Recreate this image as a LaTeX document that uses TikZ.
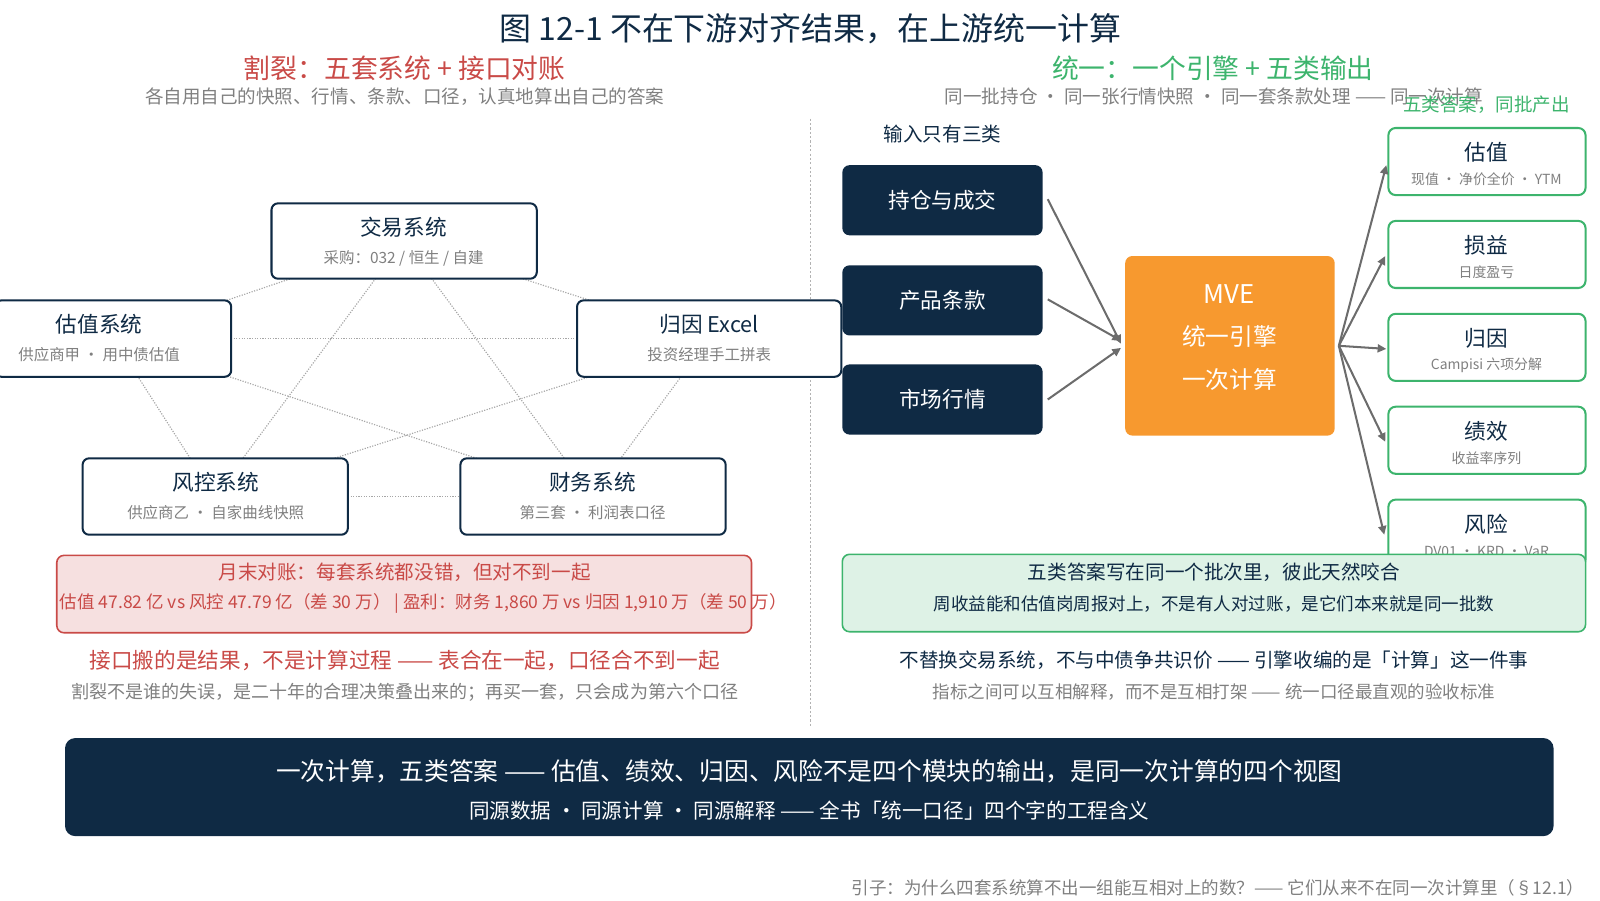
\documentclass[tikz,border=0pt]{standalone}
\usepackage{fontspec}
\setmainfont{Noto Sans CJK SC}
\usetikzlibrary{arrows.meta}
\newcommand\pxf[1]{\fontsize{\dimexpr #1pt*142/100\relax}{\dimexpr #1pt*175/100\relax}\selectfont}
\definecolor{navy}{HTML}{0F2A44}
\definecolor{redc}{HTML}{C94A47}
\definecolor{greenc}{HTML}{3DB46D}
\definecolor{grayt}{HTML}{808080}
\definecolor{orangec}{HTML}{F7992F}
\begin{document}
\begin{tikzpicture}[x=0.05cm,y=-0.05cm,
  sys/.style={draw=navy,line width=2.8pt,fill=white,rounded corners=9pt},
  inp/.style={fill=navy,rounded corners=10pt},
  outb/.style={draw=greenc,line width=2.8pt,fill=white,rounded corners=10pt},
  dotl/.style={gray!70,dotted,line width=1.6pt},
  arr/.style={draw=gray!85!black,line width=2.8pt,-{Triangle[length=12pt,width=11pt]}},
  lbl/.style={inner sep=0pt,text=navy}]
\useasboundingbox (0,0) rectangle (1550,872);
% titles
\node[lbl] (title) at (785,28) {\pxf{31}图 12-1 不在下游对齐结果，在上游统一计算};
\node[lbl,text=redc] (lt) at (392,66) {\pxf{26}割裂：五套系统 + 接口对账};
\node[lbl,text=grayt] (ls) at (392,94) {\pxf{18}各自用自己的快照、行情、条款、口径，认真地算出自己的答案};
\node[lbl,text=greenc] (rt) at (1175,66) {\pxf{26}统一：一个引擎 + 五类输出};
\node[lbl,text=grayt] (rs) at (1176,93) {\pxf{18}同一批持仓 · 同一张行情快照 · 同一套条款处理 —— 同一次计算};
\node[lbl,text=greenc] (rg) at (1440,101) {\pxf{18}五类答案，同批产出};
\draw[gray!60,dashed,line width=1.4pt] (785,115) -- (785,705);
% left system coordinates (centers)
\coordinate (cj) at (391,233);
\coordinate (cg) at (110,328);
\coordinate (ca) at (687,328);
\coordinate (cf) at (208,481);
\coordinate (cc) at (574,481);
\foreach \a/\b in {cj/cg,cj/ca,cj/cf,cj/cc,cg/ca,cg/cf,cg/cc,ca/cf,ca/cc,cf/cc}
  \draw[dotl] (\a) -- (\b);
\draw[sys] (263,197) rectangle (520,270);
\draw[sys] (-5,291) rectangle (224,365);
\draw[sys] (559,291) rectangle (815,365);
\draw[sys] (80,444) rectangle (337,518);
\draw[sys] (446,444) rectangle (703,518);
\node[lbl] (jt) at (391,220) {\pxf{21}交易系统};
\node[lbl,text=grayt] (js) at (391,250) {\pxf{15}采购：032 / 恒生 / 自建};
\node[lbl] (gt) at (96,314) {\pxf{21}估值系统};
\node[lbl,text=grayt] (gs) at (96,344) {\pxf{15}供应商甲 · 用中债估值};
\node[lbl] (at) at (687,314) {\pxf{21}归因 Excel};
\node[lbl,text=grayt] (as) at (687,344) {\pxf{15}投资经理手工拼表};
\node[lbl] (ft) at (209,467) {\pxf{21}风控系统};
\node[lbl,text=grayt] (fs) at (209,497) {\pxf{15}供应商乙 · 自家曲线快照};
\node[lbl] (ct) at (574,467) {\pxf{21}财务系统};
\node[lbl,text=grayt] (cs) at (574,497) {\pxf{15}第三套 · 利润表口径};
% red box
\draw[draw=redc,fill=redc!17,line width=2.2pt,rounded corners=10pt] (55,538) rectangle (728,613);
\node[lbl,text=redc] (r1) at (392,554) {\pxf{19}月末对账：每套系统都没错，但对不到一起};
\node[lbl,text=redc] (r2) at (410,585) {\pxf{17}估值 47.82 亿 vs 风控 47.79 亿（差 30 万） | 盈利：财务 1,860 万 vs 归因 1,910 万（差 50 万）};
\node[lbl,text=redc] (r3) at (392,640) {\pxf{21}接口搬的是结果，不是计算过程 —— 表合在一起，口径合不到一起};
\node[lbl,text=grayt] (r4) at (392,671) {\pxf{17.5}割裂不是谁的失误，是二十年的合理决策叠出来的；再买一套，只会成为第六个口径};
% right: inputs
\node[lbl] (inl) at (913,130) {\pxf{19}输入只有三类};
\fill[inp] (816,160) rectangle (1010,228);
\fill[inp] (816,257) rectangle (1010,325);
\fill[inp] (816,353) rectangle (1010,421);
\node[lbl,text=white] (i1) at (913,194) {\pxf{21}持仓与成交};
\node[lbl,text=white] (i2) at (913,291) {\pxf{21}产品条款};
\node[lbl,text=white] (i3) at (913,387) {\pxf{21}市场行情};
\fill[orangec,rounded corners=10pt] (1090,248) rectangle (1293,422);
\node[lbl,text=white] (m1) at (1191,285) {\pxf{25}MVE};
\node[lbl,text=white] (m2) at (1191,326) {\pxf{23}统一引擎};
\node[lbl,text=white] (m3) at (1191,368) {\pxf{23}一次计算};
\coordinate (a1) at (1015,193); \coordinate (a2) at (1015,290); \coordinate (a3) at (1015,387);
\coordinate (e1) at (1086,333); \coordinate (e2) at (1086,330); \coordinate (e3) at (1086,337);
\draw[arr] (a1) -- (e1);
\draw[arr] (a2) -- (e2);
\draw[arr] (a3) -- (e3);
% outputs
\foreach \y/\t/\s in {124/估值/现值 · 净价全价 · YTM,214/损益/日度盈亏,304/归因/Campisi 六项分解,394/绩效/收益率序列,484/风险/DV01 · KRD · VaR}{
  \draw[outb] (1345,\y) rectangle (1536,\y+65);
  \node[lbl] at (1440,\y+24) {\pxf{21}\t};
  \node[lbl,text=grayt] at (1440,\y+50) {\pxf{13.5}\s};
}
\coordinate (o) at (1297,335);
\coordinate (t1) at (1343,160); \coordinate (t2) at (1342,248); \coordinate (t3) at (1343,338);
\coordinate (t4) at (1342,428); \coordinate (t5) at (1341,518);
\foreach \t in {t1,t2,t3,t4,t5} \draw[arr] (o) -- (\t);
% green box
\draw[draw=greenc,fill=greenc!17,line width=2.2pt,rounded corners=10pt] (816,537) rectangle (1536,612);
\node[lbl] (g1) at (1176,554) {\pxf{19}五类答案写在同一个批次里，彼此天然咬合};
\node[lbl] (g2) at (1176,585) {\pxf{17}周收益能和估值岗周报对上，不是有人对过账，是它们本来就是同一批数};
\node[lbl] (g3) at (1176,640) {\pxf{19}不替换交易系统，不与中债争共识价 —— 引擎收编的是「计算」这一件事};
\node[lbl,text=grayt] (g4) at (1176,670) {\pxf{17}指标之间可以互相解释，而不是互相打架 —— 统一口径最直观的验收标准};
% banner
\fill[navy,rounded corners=14pt] (63,715) rectangle (1505,810);
\node[lbl,text=white] (b1) at (784,747) {\pxf{24}一次计算，五类答案 —— 估值、绩效、归因、风险不是四个模块的输出，是同一次计算的四个视图};
\node[lbl,text=white] (b2) at (784,785) {\pxf{20}同源数据 · 同源计算 · 同源解释 —— 全书「统一口径」四个字的工程含义};
\node[lbl,text=grayt,anchor=east] (foot) at (1535,860) {\pxf{17}引子：为什么四套系统算不出一组能互相对上的数？—— 它们从来不在同一次计算里（§12.1）};
\end{tikzpicture}
\end{document}
